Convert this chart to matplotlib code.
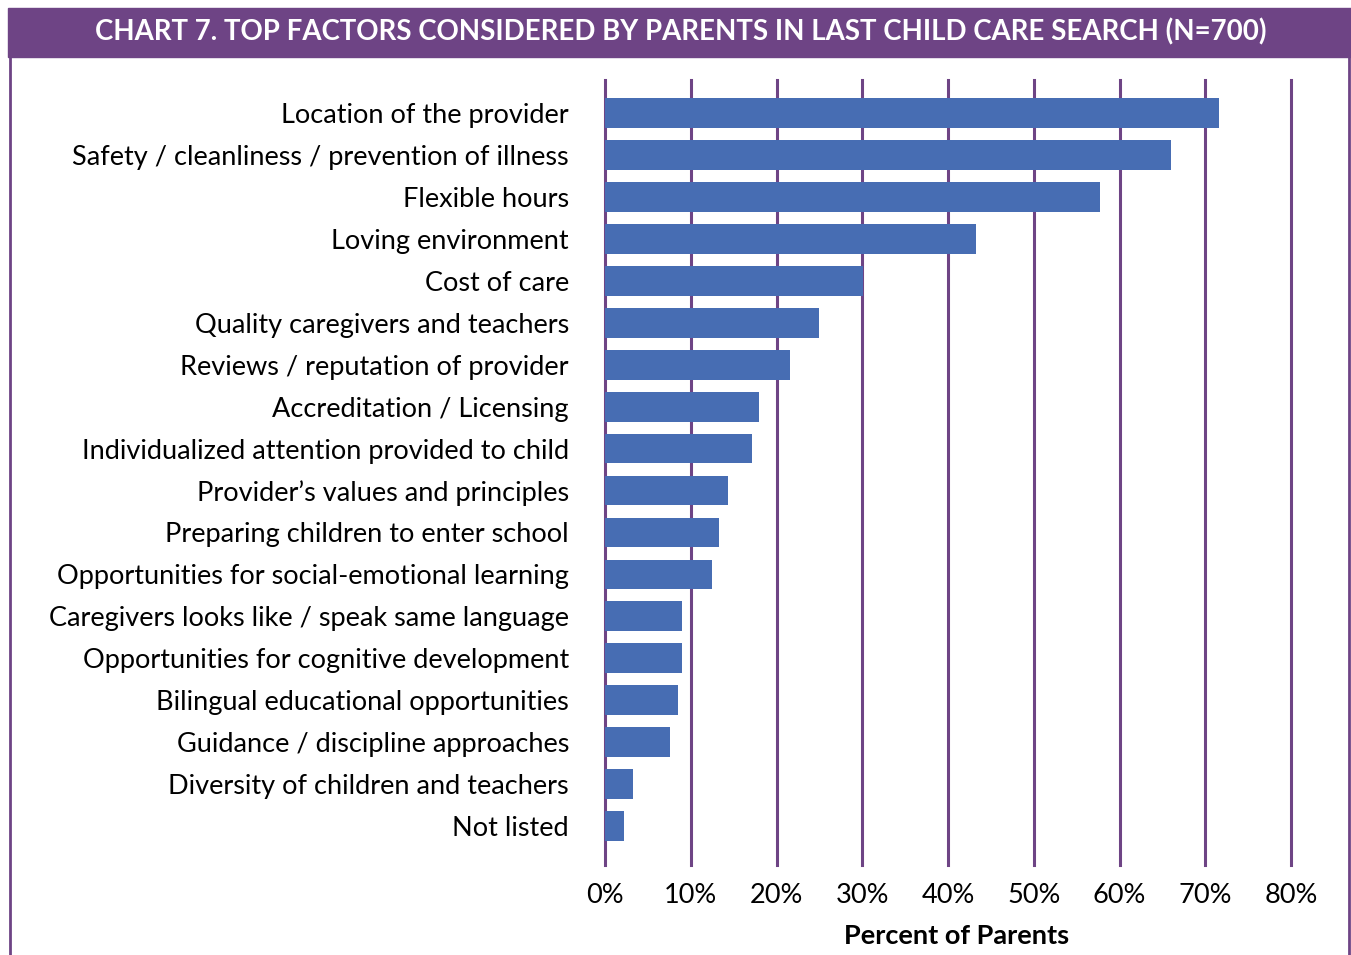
import matplotlib.pyplot as plt
from matplotlib.patches import Rectangle
from matplotlib.lines import Line2D

# Survey results: share of parents naming each factor
factors = [
    "Location of the provider",
    "Safety / cleanliness / prevention of illness",
    "Flexible hours",
    "Loving environment",
    "Cost of care",
    "Quality caregivers and teachers",
    "Reviews / reputation of provider",
    "Accreditation / Licensing",
    "Individualized attention provided to child",
    "Provider\u2019s values and principles",
    "Preparing children to enter school",
    "Opportunities for social-emotional learning",
    "Caregivers looks like / speak same language",
    "Opportunities for cognitive development",
    "Bilingual educational opportunities",
    "Guidance / discipline approaches",
    "Diversity of children and teachers",
    "Not listed",
]
percent = [71.6, 66.0, 57.7, 43.3, 30.1, 25.0, 21.6, 18.0, 17.1,
           14.3, 13.3, 12.5, 9.0, 9.0, 8.5, 7.6, 3.3, 2.2]
x_ticks = [0, 10, 20, 30, 40, 50, 60, 70, 80]

purple = "#6e4485"
blue = "#476db3"

plt.rcParams['font.family'] = ['Lato', 'DejaVu Sans']

fig = plt.figure(figsize=(13.51, 9.55), dpi=100)
W, H = 1351, 955

# Header band and frame
fig.patches.append(Rectangle((8 / W, 1 - 57 / H), 1 - 8 / W, 49 / H,
                             transform=fig.transFigure, color=purple, zorder=0))
fig.lines.append(Line2D([10 / W, 10 / W], [0, 1 - 57 / H],
                        transform=fig.transFigure, color=purple, lw=2))
fig.lines.append(Line2D([1349 / W, 1349 / W], [0, 1 - 57 / H],
                        transform=fig.transFigure, color=purple, lw=2))
fig.text(681 / W, 1 - 32 / H,
         "CHART 7. TOP FACTORS CONSIDERED BY PARENTS IN LAST CHILD CARE SEARCH (N=700)",
         color="white", fontsize=19.9, fontweight="bold", ha="center", va="center")

ax = fig.add_axes([605 / W, 1 - 865 / H, 686 / W, 785 / H])

y = list(range(len(factors)))
ax.barh(y, percent, height=0.71, color=blue, zorder=3)

ax.set_xlim(0, 80)
ax.set_ylim(17.93, -0.79)
ax.set_xticks(x_ticks)
ax.set_xticklabels([f"{t}%" for t in x_ticks], fontsize=19.5)
ax.set_yticks(y)
ax.set_yticklabels(factors, fontsize=19.5)
ax.tick_params(axis="y", length=0, pad=26)
ax.tick_params(axis="x", length=0, pad=13)

for t in x_ticks:
    ax.axvline(t, color=purple, lw=2.2, zorder=2, clip_on=False)

for s in ax.spines.values():
    s.set_visible(False)

fig.text(957 / W, 1 - 936 / H, "Percent of Parents", fontsize=19.5,
         fontweight="bold", ha="center", va="center")

fig.savefig("out.png", dpi=100)
